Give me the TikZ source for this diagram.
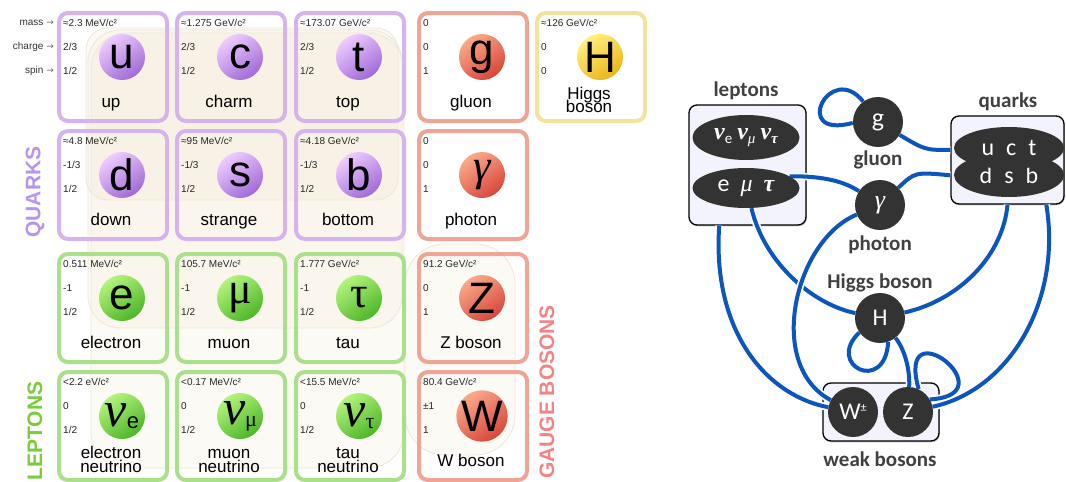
\documentclass[tikz,border=0pt]{standalone}
\usepackage{fontspec}
\setmainfont{Liberation Sans}
\newfontfamily\tmsfont{Liberation Serif}
\newfontfamily\calfont{Carlito}
\newfontfamily\symfont{DejaVu Sans}
\usetikzlibrary{shapes.geometric,shadows}

% particle families: q = quarks, l = leptons, b = gauge bosons, h = Higgs
\definecolor{qedge}{HTML}{D5B4EE}
\definecolor{qlight}{HTML}{EFCCFF}
\definecolor{qdark}{HTML}{A06AD6}
\definecolor{ledge}{HTML}{AAE08C}
\definecolor{llight}{HTML}{B4F47C}
\definecolor{ldark}{HTML}{4DB628}
\definecolor{bedge}{HTML}{EEA596}
\definecolor{blight}{HTML}{FAAA8A}
\definecolor{bdark}{HTML}{D8463A}
\definecolor{hedge}{HTML}{F1E39C}
\definecolor{hlight}{HTML}{FFF27E}
\definecolor{hdark}{HTML}{ECB31A}
\definecolor{cream}{HTML}{F4E6CE}
\definecolor{creamline}{HTML}{EEE6D8}
\definecolor{quarktxt}{HTML}{B894F0}
\definecolor{leptontxt}{HTML}{7CCB3E}
\definecolor{bosontxt}{HTML}{F48484}
\definecolor{ink}{HTML}{333333}
\definecolor{labelgrey}{HTML}{404040}
\definecolor{linkblue}{HTML}{0B55BD}
\definecolor{panel}{HTML}{F2F3FC}

\pgfdeclarelayer{boxes}
\pgfdeclarelayer{links}
\pgfsetlayers{boxes,links,main}

\tikzset{
  bgpanel/.style={fill=cream, fill opacity=0.2, draw=creamline, line width=0.8pt, rounded corners=#1},
  card/.style={draw=#1edge, line width=4pt, rounded corners=9pt, minimum width=108pt,
    minimum height=108pt, inner sep=0pt, anchor=north west},
  ball/.style={circle, minimum size=46pt, inner sep=0pt, top color=#1light, bottom color=#1dark,
    shading angle=35, font=\fontsize{44}{44}\selectfont},
  datum/.style={anchor=west, inner sep=0pt, font=\fontsize{10}{10}\selectfont, text=black!85},
  pname/.style={anchor=north, inner sep=0pt, align=center, font=\fontsize{17}{14.5}\selectfont},
  rowtag/.style={anchor=east, inner sep=0pt, font=\fontsize{10}{10}\selectfont, text=black!80},
  grouptag/.style={rotate=90, inner sep=0pt, font=\bfseries\fontsize{21}{21}\selectfont, text=#1},
  panelbox/.style={draw=black, line width=1.3pt, fill=panel, rounded corners=8pt, inner sep=0pt,
    drop shadow={shadow xshift=0.8pt, shadow yshift=-1.3pt, opacity=0.45}},
  darkoval/.style={ellipse, fill=ink, inner sep=0pt, text=white},
  darkball/.style={circle, fill=ink, minimum size=50pt, inner sep=0pt, text=white,
    font=\calfont\fontsize{26}{26}\selectfont},
  tag/.style={inner sep=0pt, text=labelgrey, font=\calfont\bfseries\fontsize{21}{21}\selectfont},
  link/.style={draw=linkblue, line width=4pt, preaction={draw=white, line width=7.5pt}},
}

% [label options]{name}{x,y of top-left corner}{family}{mass}{charge}{spin}{symbol}{name text}
\newcommand\particle[9][]{%
  \node[card=#4] (#2) at ([shift={(2,2)}]#3) {};
  \node[datum] (#2-mass) at ([shift={(8,14)}]#3) {#5};
  \node[datum] (#2-charge) at ([shift={(8,38)}]#3) {#6};
  \node[datum] (#2-spin) at ([shift={(8,62)}]#3) {#7};
  \node[ball=#4] (#2-sym) at ([shift={(67,48)}]#3) {#8};
  \node[pname,#1] (#2-name) at ([shift={(56,85)}]#3) {\rule{0pt}{13pt}#9};
}
\newcommand\nusym[1]{{\tmsfont\itshape\fontsize{50}{50}\selectfont ν}\raisebox{-2pt}{\fontsize{22}{22}\selectfont #1}}

\begin{document}
\begin{tikzpicture}[x=1pt, y=-1pt]
\begin{pgfonlayer}{boxes}
  \fill[white] (0,0) rectangle (1066,482);
\end{pgfonlayer}
\useasboundingbox (0,0) rectangle (1066,482);

% ---------- particle chart ----------
% faint generation panels behind the cards
\path[bgpanel=22pt] (86,28) rectangle (398,200);
\path[bgpanel=32pt] (88,30) rectangle (402,328);
\path[bgpanel=36pt] (91,33) rectangle (404,468);
\path[bgpanel=40pt] (405,244) rectangle (515,455);

\node[rowtag] (tmass)   at (54,23) {mass {\symfont\fontsize{9}{9}\selectfont\color{black!60}→}};
\node[rowtag] (tcharge) at (54,47) {charge {\symfont\fontsize{9}{9}\selectfont\color{black!60}→}};
\node[rowtag] (tspin)   at (54,71) {spin {\symfont\fontsize{9}{9}\selectfont\color{black!60}→}};

\particle{up}{55,9}{q}{≈2.3 MeV/c²}{2/3}{1/2}{u}{up}
\particle{charm}{173,9}{q}{≈1.275 GeV/c²}{2/3}{1/2}{c}{charm}
\particle{top}{292,9}{q}{≈173.07 GeV/c²}{2/3}{1/2}{t}{top}
\particle{gluon}{415,9}{b}{0}{0}{1}{g}{gluon}
\particle[yshift=8pt]{higgs}{533,9}{h}{≈126 GeV/c²}{0}{0}{H}{Higgs\\[-3.5pt]boson}

\particle{down}{55,127}{q}{≈4.8 MeV/c²}{-1/3}{1/2}{d}{down}
\particle{strange}{173,127}{q}{≈95 MeV/c²}{-1/3}{1/2}{s}{strange}
\particle{bottom}{292,127}{q}{≈4.18 GeV/c²}{-1/3}{1/2}{b}{bottom}
\particle{photon}{415,127}{b}{0}{0}{1}{{\tmsfont\itshape γ}}{photon}

\particle{electron}{55,250}{l}{0.511 MeV/c²}{-1}{1/2}{e}{electron}
\particle{muon}{173,250}{l}{105.7 MeV/c²}{-1}{1/2}{{\tmsfont μ}}{muon}
\particle{tau}{292,250}{l}{1.777 GeV/c²}{-1}{1/2}{{\tmsfont τ}}{tau}
\particle{zboson}{415,250}{b}{91.2 GeV/c²}{0}{1}{Z}{Z boson}

\particle[yshift=8pt]{nue}{55,368}{l}{<2.2 eV/c²}{0}{1/2}{\nusym{e}}{electron\\neutrino}
\particle[yshift=8pt]{numu}{173,368}{l}{<0.17 MeV/c²}{0}{1/2}{\nusym{\tmsfont μ}}{muon\\neutrino}
\particle[yshift=8pt]{nutau}{292,368}{l}{<15.5 MeV/c²}{0}{1/2}{\nusym{\tmsfont τ}}{tau\\neutrino}
\particle{wboson}{415,368}{b}{80.4 GeV/c²}{±1}{1}{W}{W boson}

\node[grouptag=quarktxt]  (gq) at (35,192) {QUARKS};
\node[grouptag=leptontxt] (gl) at (35,431) {LEPTONS};
\node[grouptag=bosontxt]  (gb) at (547,392) {GAUGE BOSONS};

% ---------- interaction diagram ----------
\begin{pgfonlayer}{boxes}
  \node[panelbox, minimum width=117pt, minimum height=120pt] (lbox) at (747.5,165) {};
  \node[panelbox, minimum width=113pt, minimum height=88pt] (qbox) at (1007.5,160) {};
  \node[panelbox, minimum width=116pt, minimum height=58pt] (wbox) at (881,412) {};
\end{pgfonlayer}

\node[darkoval, minimum width=107pt, minimum height=45pt] (lep1) at (746,137.5)
  {\fontsize{24}{24}\selectfont{\tmsfont\bfseries\itshape ν}\raisebox{-4pt}{\calfont\fontsize{15}{15}\selectfont e}\hspace{5pt}{\tmsfont\bfseries\itshape ν}\raisebox{-4pt}{\tmsfont\itshape\fontsize{15}{15}\selectfont μ}\hspace{5pt}{\tmsfont\bfseries\itshape ν}\raisebox{-4pt}{\tmsfont\bfseries\itshape\fontsize{15}{15}\selectfont τ}};
\node[darkoval, minimum width=107pt, minimum height=40pt] (lep2) at (746,188)
  {\fontsize{24}{24}\selectfont{\calfont e}\hspace{11pt}{\tmsfont\itshape μ}\hspace{11pt}{\tmsfont\bfseries\itshape τ}};
\node[darkoval, minimum width=110pt, minimum height=44pt] (qbot) at (1009,175)
  {\calfont\fontsize{24}{24}\selectfont d\hspace{12pt}s\hspace{12pt}b};
\node[darkoval, minimum width=110pt, minimum height=42pt] (qtop) at (1009,148)
  {\calfont\fontsize{24}{24}\selectfont u\hspace{12pt}c\hspace{12pt}t};

\node[darkball] (g) at (878,122) {g};
\node[darkball] (ph) at (880,205) {\tmsfont\itshape γ};
\node[darkball, font=\calfont\fontsize{24}{24}\selectfont] (H) at (880,318) {H};
\node[darkball, font=\calfont\fontsize{24}{24}\selectfont] (W) at (853,412) {W\raisebox{8pt}{\fontsize{12}{12}\selectfont ±}};
\node[darkball, font=\calfont\fontsize{24}{24}\selectfont] (Z) at (908,412) {Z};

\node[tag] (tlep) at (746,91) {leptons};
\node[tag] (tglu) at (878,160) {gluon};
\node[tag] (tqua) at (1008,102) {quarks};
\node[tag] (tpho) at (880,245) {photon};
\node[tag] (thig) at (880,283) {Higgs boson};
\node[tag] (twea) at (880,459) {weak bosons};

\begin{pgfonlayer}{links}
  % charged leptons
  \draw[link] (lep2.285) .. controls (765,265) and (815,305) .. (H);
  \draw[link] (lbox.245) .. controls (712,330) and (765,395) .. (W);
  \draw[link] (lep2.15) .. controls (825,176) and (845,182) .. (ph);
  % photon
  \draw[link] (ph) .. controls (795,240) and (765,365) .. (W);
  \draw[link] (ph) .. controls (915,172) .. (qbox.195);
  % gluon
  \draw[link] (g.182) .. controls (790,140) and (830,60) .. (g.126);
  \draw[link] (g) .. controls (925,150) .. (qbox.170);
  % quarks
  \draw[link] (qbox.south) .. controls (1003,255) and (960,300) .. (H);
  \draw[link] (qbox.311) .. controls (1062,300) and (1010,390) .. (Z);
  % Higgs and weak bosons
  \draw[link] (H.215) .. controls (825,365) and (885,395) .. (H.289);
  \draw[link] (H) .. controls (905,350) and (910,370) .. (Z);
  \draw[link] (Z.30) .. controls (1010,395) and (895,305) .. (Z.65);
\end{pgfonlayer}
\end{tikzpicture}
\end{document}
